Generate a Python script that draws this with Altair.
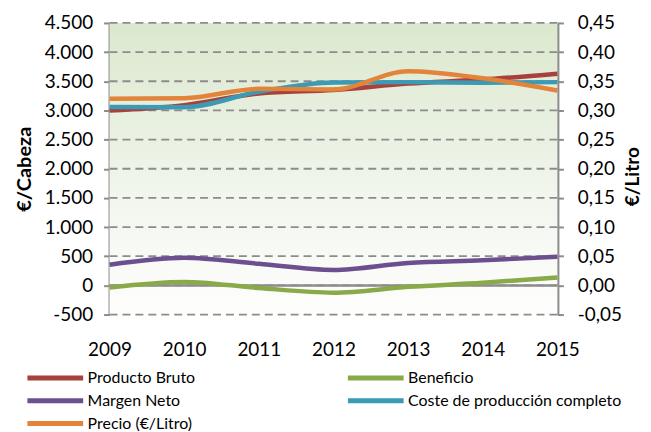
import altair as alt
import pandas as pd

years = [2009, 2010, 2011, 2012, 2013, 2014, 2015]
producto_bruto = [3000, 3090, 3290, 3350, 3460, 3530, 3630]
margen_neto = [355, 475, 370, 265, 385, 430, 490]
beneficio = [-35, 60, -45, -125, -25, 45, 135]
coste = [3060, 3055, 3320, 3480, 3485, 3475, 3485]
precio = [0.320, 0.321, 0.337, 0.336, 0.367, 0.355, 0.334]

series_names = ["Producto Bruto", "Beneficio", "Margen Neto",
                "Coste de producción completo", "Precio (€/Litro)"]
series_colors = ["#a8403c", "#88aa48", "#6b4f8e", "#3d9ab4", "#e2843a"]

left_ticks = [-500, 0, 500, 1000, 1500, 2000, 2500, 3000, 3500, 4000, 4500]
right_ticks = [-0.05, 0.0, 0.05, 0.10, 0.15, 0.20, 0.25, 0.30, 0.35, 0.40, 0.45]

W, H = 450, 293
FONT = "Lato"
GRAY = "#8c8c8c"

rows = []
for name, vals in [("Producto Bruto", producto_bruto), ("Margen Neto", margen_neto),
                   ("Beneficio", beneficio), ("Coste de producción completo", coste)]:
    for y, v in zip(years, vals):
        rows.append({"year": y, "series": name, "value": v})
left_df = pd.DataFrame(rows)
right_df = pd.DataFrame({"year": years, "series": "Precio (€/Litro)", "value": precio})

color = alt.Color("series:N", scale=alt.Scale(domain=series_names, range=series_colors),
                  legend=alt.Legend(title=None, orient="none", direction="horizontal",
                                    legendX=-65, legendY=346,
                                    columns=2, columnPadding=142, rowPadding=2,
                                    symbolType="M-3.5,0H3.5", symbolSize=256,
                                    symbolStrokeWidth=5,
                                    labelFont=FONT, labelFontSize=16, labelColor="black",
                                    labelOffset=22, labelLimit=400))

xenc = alt.X("year:O", scale=alt.Scale(padding=0),
             axis=alt.Axis(title=None, domain=False, ticks=False, labelAngle=0,
                           labelFont=FONT, labelFontSize=19, labelColor="black",
                           labelPadding=26))

left_scale = alt.Scale(domain=[-500, 4500], nice=False, zero=False)
left_axis = alt.Axis(values=left_ticks, title="€/Cabeza", grid=False, labelOverlap=False,
                     domainColor=GRAY, domainWidth=3,
                     tickColor=GRAY, tickWidth=2, tickSize=6,
                     labelFont=FONT, labelFontSize=19, labelColor="black", labelPadding=11,
                     labelExpr="(datum.value < 0 ? '-' : '') + replace(format(abs(datum.value), ','), ',', '.')",
                     titleFont=FONT, titleFontSize=20, titleFontWeight="bold",
                     titleColor="black", titlePadding=10)

bg = alt.Chart(pd.DataFrame({"a": [0]})).mark_rect(
    color=alt.LinearGradient(gradient="linear",
                             stops=[alt.GradientStop(color="#dbe8cd", offset=0),
                                    alt.GradientStop(color="#f2f6ee", offset=0.6),
                                    alt.GradientStop(color="#fefefd", offset=1)],
                             x1=0, x2=0, y1=0, y2=1)
).encode(x=alt.value(0), x2=alt.value(W), y=alt.value(0), y2=alt.value(H))

grid = alt.Chart(pd.DataFrame({"value": left_ticks})).mark_rule(
    color=GRAY, strokeWidth=1.8, strokeDash=[8, 5]
).encode(y=alt.Y("value:Q", scale=left_scale, axis=left_axis))

zero_rule = alt.Chart(pd.DataFrame({"value": [0]})).mark_rule(color=GRAY, strokeWidth=2.5).encode(
    y=alt.Y("value:Q", scale=left_scale, axis=left_axis)
)

left_lines = alt.Chart(left_df).mark_line(strokeWidth=4.5, interpolate="monotone").encode(
    x=xenc,
    y=alt.Y("value:Q", scale=left_scale, axis=left_axis),
    color=color,
    detail="series:N",
)

left = alt.layer(bg, grid, zero_rule, left_lines)

right = alt.Chart(right_df).mark_line(strokeWidth=4.5, interpolate="monotone").encode(
    x=xenc,
    y=alt.Y("value:Q", scale=alt.Scale(domain=[-0.05, 0.45], nice=False, zero=False),
            axis=alt.Axis(orient="right", values=right_ticks, title="€/Litro", grid=False,
                          labelOverlap=False,
                          domainColor=GRAY, domainWidth=3,
                          tickColor=GRAY, tickWidth=2, tickSize=6,
                          labelFont=FONT, labelFontSize=19, labelColor="black", labelPadding=14,
                          labelExpr="(datum.value < 0 ? '-' : '') + replace(format(abs(datum.value), '.2f'), '.', ',')",
                          titleFont=FONT, titleFontSize=19, titleFontWeight="bold",
                          titleColor="black", titleAngle=270, titleX=75, titleY=154,
                          titleBaseline="middle", titleAlign="center")),
    color=color,
)

chart = alt.layer(left, right).resolve_scale(y="independent").properties(
    width=W, height=H,
    autosize=alt.AutoSizeParams(type="none"),
    padding={"left": 102, "top": 14, "right": 86, "bottom": 117},
).configure_view(stroke=None)

chart.save("out.html", embed_options={"renderer": "svg", "actions": False})
